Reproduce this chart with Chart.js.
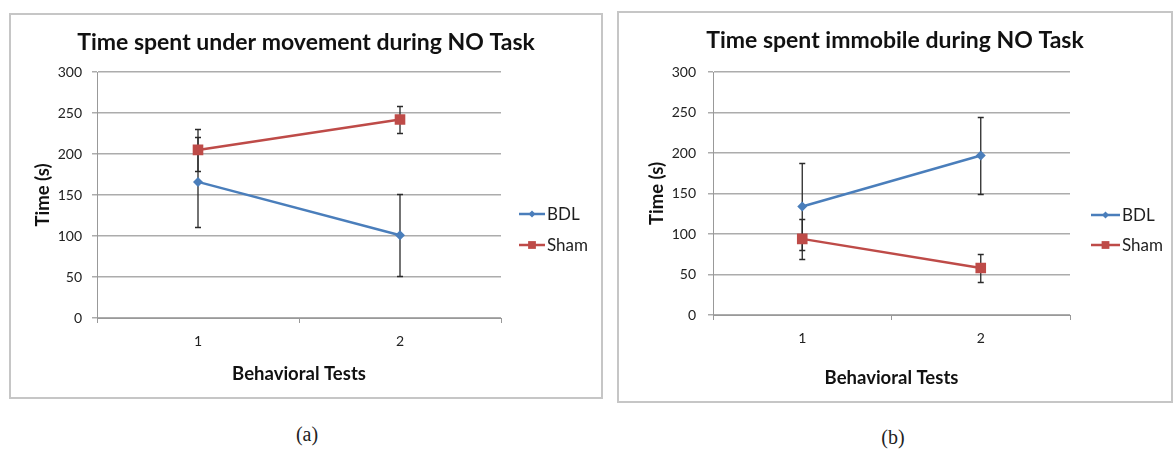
<!DOCTYPE html>
<html>
<head>
<meta charset="utf-8">
<script src="https://cdn.jsdelivr.net/npm/chart.js@4"></script>
<style>
body { margin: 0; background: #fff; width: 1173px; height: 450px; position: relative; overflow: hidden; }
.box { position: absolute; border: 2px solid #c6c6c6; background: #fff; }
.cap { position: absolute; font-family: "Liberation Serif", serif; font-size: 20px; color: #222; transform: translate(-50%, -50%); }
</style>
</head>
<body>

<div class="box" style="left:9px; top:13px; width:590px; height:382px;">
    <canvas id="chartA" width="590" height="382"></canvas>
</div>
<div class="box" style="left:617px; top:11px; width:552px; height:388px;">
    <canvas id="chartB" width="552" height="388"></canvas>
</div>
<div class="cap" style="left:307px; top:434px;">(a)</div>
<div class="cap" style="left:893px; top:437px;">(b)</div>

<script>
const tests = ['1', '2'];
const yTicks = [0, 50, 100, 150, 200, 250, 300];

// (a) time spent under movement
const movementBDL = [166, 101];
const movementBDLErr = [55, 50];
const movementSham = [205, 242];
const movementShamErr = [26, 16];

// (b) time spent immobile
const immobileBDL = [134, 197];
const immobileBDLErr = [54, 48];
const immobileSham = [94, 58];
const immobileShamErr = [25, 17];

const blue = '#4a7ebb';
const red = '#be4b48';
const grid = '#acacac';
const FONT = 'Lato, "Open Sans", sans-serif';
const TITLE_SIZE = 23;

const errorBars = {
    id: 'errorBars',
    beforeDatasetsDraw(chart) {
        const ctx = chart.ctx;
        const y = chart.scales.y;
        ctx.save();
        ctx.strokeStyle = '#2a2a2a';
        ctx.lineWidth = 1.3;
        chart.data.datasets.forEach((ds, i) => {
            chart.getDatasetMeta(i).data.forEach((pt, j) => {
                const top = Math.round(y.getPixelForValue(ds.data[j] + ds.errors[j])) + 0.5;
                const bot = Math.round(y.getPixelForValue(ds.data[j] - ds.errors[j])) + 0.5;
                ctx.beginPath();
                ctx.moveTo(pt.x, top); ctx.lineTo(pt.x, bot);
                ctx.moveTo(pt.x - 3, top); ctx.lineTo(pt.x + 3, top);
                ctx.moveTo(pt.x - 3, bot); ctx.lineTo(pt.x + 3, bot);
                ctx.stroke();
            });
        });
        ctx.restore();
    }
};

// excel style legend: short line with the marker in the middle
const sideLegend = {
    id: 'sideLegend',
    afterDraw(chart, args, opts) {
        const ctx = chart.ctx;
        const a = chart.chartArea;
        ctx.save();
        chart.data.datasets.forEach((ds, i) => {
            const x0 = a.right + opts.x;
            const yy = a.top + opts.y + i * opts.gap;
            ctx.strokeStyle = ds.borderColor;
            ctx.fillStyle = ds.borderColor;
            ctx.lineWidth = 2.5;
            ctx.beginPath();
            ctx.moveTo(x0, yy);
            ctx.lineTo(x0 + opts.w, yy);
            ctx.stroke();
            Chart.helpers.drawPoint(ctx, {
                pointStyle: ds.pointStyle,
                radius: ds.pointStyle === 'rect' ? 5.5 : 3.5,
                rotation: 0,
                borderWidth: 0
            }, x0 + opts.w / 2, yy);
            ctx.fillStyle = '#1e1e1e';
            ctx.font = '17px ' + FONT;
            ctx.textBaseline = 'middle';
            ctx.fillText(ds.label, x0 + opts.w + 2, yy + 1);
        });
        ctx.restore();
    }
};

function makeChart(id, title, bdl, bdlErr, sham, shamErr, g) {
    const lh = TITLE_SIZE * 1.2;
    const tTop = g.titleCenter - lh / 2;
    return new Chart(id, {
        type: 'line',
        data: {
            labels: tests,
            datasets: [{
                label: 'BDL',
                data: bdl,
                errors: bdlErr,
                borderColor: blue,
                backgroundColor: blue,
                borderWidth: 2.5,
                pointStyle: 'rectRot',
                pointRadius: 5,
                pointBorderWidth: 0
            }, {
                label: 'Sham',
                data: sham,
                errors: shamErr,
                borderColor: red,
                backgroundColor: red,
                borderWidth: 2.5,
                pointStyle: 'rect',
                pointRadius: 7.5,
                pointBorderWidth: 0
            }]
        },
        options: {
            responsive: false,
            animation: false,
            devicePixelRatio: 1,
            layout: { padding: 0 },
            plugins: {
                legend: { display: false },
                tooltip: { enabled: false },
                title: {
                    display: true,
                    text: title,
                    color: '#111',
                    font: { family: FONT, size: TITLE_SIZE, weight: 'bold', lineHeight: 1.2 },
                    padding: { top: tTop, bottom: g.top - tTop - lh }
                },
                sideLegend: g.legend
            },
            scales: {
                x: {
                    offset: true,
                    grid: { display: true, drawOnChartArea: false, drawTicks: true, tickLength: 5, color: '#999', offset: true },
                    border: { display: true, color: '#999', width: 1 },
                    ticks: { color: '#222', padding: 10, font: { family: FONT, size: 14 } },
                    title: {
                        display: true, text: 'Behavioral Tests', color: '#111',
                        font: { family: FONT, size: 18.5, weight: 'bold' },
                        padding: { top: g.xTitlePad, bottom: g.xTitlePad }
                    },
                    afterFit(scale) { scale.height = g.xHeight; }
                },
                y: {
                    min: 0,
                    max: 300,
                    afterBuildTicks(scale) { scale.ticks = yTicks.map(v => ({ value: v })); },
                    grid: { color: grid, lineWidth: 1.5, tickLength: 5, drawTicks: true },
                    border: { display: true, color: '#999', width: 1 },
                    ticks: { color: '#222', padding: g.yTickPad, font: { family: FONT, size: 14 } },
                    title: {
                        display: true, text: 'Time (s)', color: '#111',
                        font: { family: FONT, size: 18.5, weight: 'bold' },
                        padding: { top: g.yTitlePad, bottom: g.yTitlePad }
                    },
                    afterFit(scale) { scale.width = g.yWidth; }
                },
                // empty axis on the right keeps room for the legend, so the title stays centred on the panel
                side: {
                    type: 'linear',
                    position: 'right',
                    display: true,
                    grid: { display: false },
                    border: { display: false },
                    ticks: { display: false },
                    afterFit(scale) { scale.width = g.right; }
                }
            }
        },
        plugins: [errorBars, sideLegend]
    });
}

makeChart('chartA', 'Time spent under movement during NO Task',
    movementBDL, movementBDLErr, movementSham, movementShamErr,
    { right: 100, top: 57, titleCenter: 28, yWidth: 86, xHeight: 79, yTickPad: 10,
      xTitlePad: 12, yTitlePad: 21, legend: { x: 18, y: 142, gap: 31, w: 26 } });

makeChart('chartB', 'Time spent immobile during NO Task',
    immobileBDL, immobileBDLErr, immobileSham, immobileShamErr,
    { right: 101, top: 59, titleCenter: 28, yWidth: 94, xHeight: 86, yTickPad: 12,
      xTitlePad: 12, yTitlePad: 27, legend: { x: 21, y: 143, gap: 30, w: 29 } });
</script>
</body>
</html>
